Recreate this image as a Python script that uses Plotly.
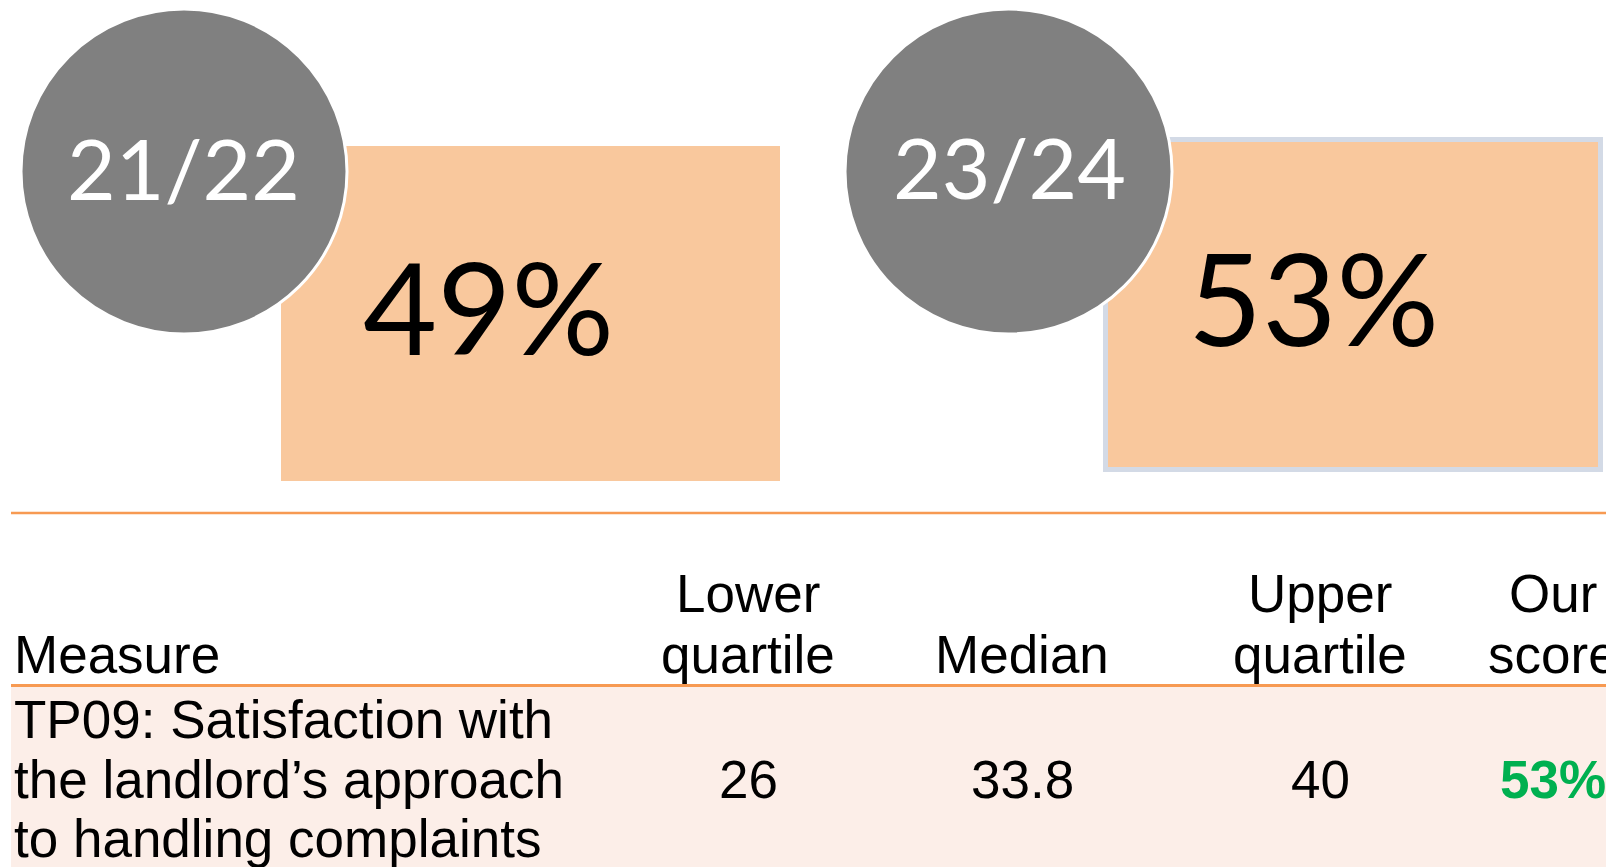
import plotly.graph_objects as go

# ---------------- data ----------------
years = ["21/22", "23/24"]
year_scores = [49, 53]                      # % satisfaction per year
header_lines = [["Measure"], ["Lower", "quartile"], ["Median"],
                ["Upper", "quartile"], ["Our", "score"]]
measure_lines = ["TP09: Satisfaction with",
                 "the landlord’s approach",
                 "to handling complaints"]
benchmark_values = [26, 33.8, 40]           # lower quartile, median, upper quartile
our_score = 53

# ---------------- layout constants ----------------
W, H = 1606, 867
PEACH = "#F9C89D"
GREY = "#808080"
ORANGE = "#F79A52"
PINK = "#FCEEE8"
GREEN = "#00B050"
TABLE_FONT = "Liberation Sans, Arial, sans-serif"
BIG_FONT = "Lato, Carlito, Calibri, sans-serif"

circles = [dict(x0=21, x1=347, y0=9, y1=334), dict(x0=845, x1=1172, y0=9, y1=334)]
rects = [dict(x0=281, x1=780, y0=146, y1=481, border=None),
         dict(x0=1105.5, x1=1600.5, y0=139.5, y1=469.5, border="#D3DAE6")]
year_label_pos = [(183, 167), (1009, 166.5)]
score_label_pos = [(488, 305), (1313, 296)]

fig = go.Figure()
fig.add_trace(go.Scatter(x=[0, W], y=[0, H], mode="markers",
                         marker=dict(opacity=0), hoverinfo="skip", showlegend=False))

shapes = []
annotations = []
for i in range(len(years)):
    r = rects[i]
    shapes.append(dict(type="rect", xref="x", yref="y", x0=r["x0"], x1=r["x1"],
                       y0=r["y0"], y1=r["y1"], fillcolor=PEACH,
                       line=dict(color=r["border"] or PEACH, width=5 if r["border"] else 0),
                       layer="above"))
    c = circles[i]
    shapes.append(dict(type="circle", xref="x", yref="y", x0=c["x0"], x1=c["x1"],
                       y0=c["y0"], y1=c["y1"], fillcolor=GREY,
                       line=dict(color="white", width=3), layer="above"))
    annotations.append(dict(x=year_label_pos[i][0], y=year_label_pos[i][1], xref="x", yref="y",
                            text=years[i], showarrow=False, xanchor="center", yanchor="middle",
                            font=dict(family=BIG_FONT, size=84, color="white")))
    annotations.append(dict(x=score_label_pos[i][0], y=score_label_pos[i][1], xref="x", yref="y",
                            text=f"{year_scores[i]}%", showarrow=False, xanchor="center",
                            yanchor="middle",
                            font=dict(family=BIG_FONT, size=128, color="black")))

# separator line
shapes.append(dict(type="line", xref="x", yref="y", x0=11, x1=W, y0=513, y1=513,
                   line=dict(color=ORANGE, width=2.5), layer="above"))
# table body fill
shapes.append(dict(type="rect", xref="x", yref="y", x0=11, x1=W, y0=686, y1=H + 5,
                   fillcolor=PINK, line=dict(width=0), layer="below"))
# header rule
shapes.append(dict(type="line", xref="x", yref="y", x0=11, x1=W, y0=685.5, y1=685.5,
                   line=dict(color=ORANGE, width=3), layer="above"))

TS = 53
def center_from_baseline(b, size=TS):
    return b - 0.35 * size

col_x = [12, 748, 1022, 1320, 1553]
header_baselines_2 = [612, 673]
for j, lines in enumerate(header_lines):
    bases = header_baselines_2[-len(lines):]
    for line, b in zip(lines, bases):
        annotations.append(dict(x=col_x[j], y=center_from_baseline(b), xref="x", yref="y",
                                text=line, showarrow=False,
                                xanchor="left" if j == 0 else "center", yanchor="middle",
                                font=dict(family=TABLE_FONT, size=TS, color="black")))

measure_baselines = [738, 798, 857]
for line, b in zip(measure_lines, measure_baselines):
    annotations.append(dict(x=col_x[0], y=center_from_baseline(b), xref="x", yref="y",
                            text=line, showarrow=False, xanchor="left", yanchor="middle",
                            font=dict(family=TABLE_FONT, size=TS, color="black")))

for j, v in enumerate(benchmark_values):
    annotations.append(dict(x=col_x[j + 1], y=center_from_baseline(798), xref="x", yref="y",
                            text=f"{v:g}", showarrow=False, xanchor="center", yanchor="middle",
                            font=dict(family=TABLE_FONT, size=TS, color="black")))
annotations.append(dict(x=col_x[4], y=center_from_baseline(798), xref="x", yref="y",
                        text=f"<b>{our_score}%</b>", showarrow=False, xanchor="center",
                        yanchor="middle",
                        font=dict(family=TABLE_FONT, size=TS, color=GREEN)))

fig.update_layout(
    width=W, height=H, margin=dict(l=0, r=0, t=0, b=0, pad=0),
    paper_bgcolor="white", plot_bgcolor="white",
    xaxis=dict(range=[0, W], visible=False, fixedrange=True),
    yaxis=dict(range=[H, 0], visible=False, fixedrange=True),
    shapes=shapes, annotations=annotations, showlegend=False,
)

fig.write_html("out.html", config={"displayModeBar": False})
